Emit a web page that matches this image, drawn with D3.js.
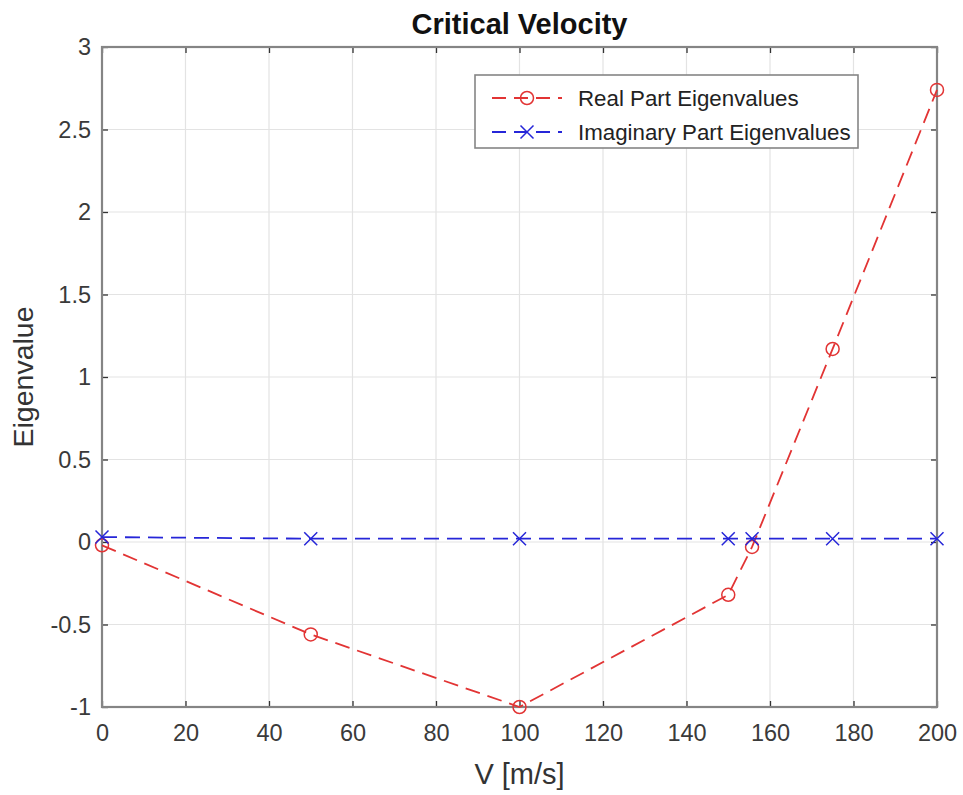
<!DOCTYPE html>
<html><head><meta charset="utf-8">
<script src="https://cdn.jsdelivr.net/npm/d3@7/dist/d3.min.js"></script>
<style>body{margin:0;background:#fff}svg{display:block}text{font-family:Arial,"Liberation Sans",Helvetica,sans-serif}</style>
</head><body><svg id="c" width="963" height="795"></svg>
<script>
const velocities = [0, 50, 100, 150, 155.7, 175, 200];
const realPart = [-0.02, -0.56, -1.0, -0.32, -0.03, 1.17, 2.74];
const imagPart = [0.03, 0.02, 0.02, 0.02, 0.02, 0.02, 0.02];
const xTicks = [0, 20, 40, 60, 80, 100, 120, 140, 160, 180, 200];
const yTicks = [-1, -0.5, 0, 0.5, 1, 1.5, 2, 2.5, 3];
const seriesNames = ["Real Part Eigenvalues", "Imaginary Part Eigenvalues"];

const W = 963, H = 795;
const m = {l: 102, t: 47, r: 26, b: 88};
const pw = W - m.l - m.r, ph = H - m.t - m.b;
const svg = d3.select("#c");
const x = d3.scaleLinear().domain([0, 200]).range([m.l, m.l + pw]);
const y = d3.scaleLinear().domain([-1, 3]).range([m.t + ph, m.t]);

const axCol = "#858585", gridCol = "#e3e3e3";
const red = "#e23434", blue = "#2626d8";

// grid
svg.append("g").selectAll("line").data(xTicks.slice(1, -1)).join("line")
  .attr("x1", d => x(d)).attr("x2", d => x(d)).attr("y1", m.t).attr("y2", m.t + ph)
  .attr("stroke", gridCol).attr("stroke-width", 1.2);
svg.append("g").selectAll("line").data(yTicks.slice(1, -1)).join("line")
  .attr("y1", d => y(d)).attr("y2", d => y(d)).attr("x1", m.l).attr("x2", m.l + pw)
  .attr("stroke", gridCol).attr("stroke-width", 1.2);

// axes (inward ticks)
const fmt = d => String(d);
const styleAxis = g => {
  g.select(".domain").remove();
  g.selectAll(".tick line").attr("stroke", "#333").attr("stroke-width", 1.3);
  g.selectAll(".tick text").attr("fill", "#3a3a3a").style("font-size", "23.5px");
};
svg.append("g").attr("transform", `translate(0,${m.t + ph})`)
  .call(d3.axisBottom(x).tickValues(xTicks).tickFormat(fmt).tickSizeInner(-6).tickPadding(17))
  .call(styleAxis);
svg.append("g").attr("transform", `translate(0,${m.t})`)
  .call(d3.axisTop(x).tickValues(xTicks).tickFormat("").tickSizeInner(-6))
  .call(styleAxis);
svg.append("g").attr("transform", `translate(${m.l},0)`)
  .call(d3.axisLeft(y).tickValues(yTicks).tickFormat(fmt).tickSizeInner(-6).tickPadding(11))
  .call(styleAxis);
svg.append("g").attr("transform", `translate(${m.l + pw},0)`)
  .call(d3.axisRight(y).tickValues(yTicks).tickFormat("").tickSizeInner(-6))
  .call(styleAxis);

// box
svg.append("rect").attr("x", m.l).attr("y", m.t).attr("width", pw).attr("height", ph)
  .attr("fill", "none").attr("stroke", axCol).attr("stroke-width", 2.2);

const realData = velocities.map((v, i) => [v, realPart[i]]);
const imagData = velocities.map((v, i) => [v, imagPart[i]]);
const line = d3.line().x(d => x(d[0])).y(d => y(d[1]));
const dash = "15,8";

function circleMarker(g, cx, cy, col) {
  g.append("circle").attr("cx", cx).attr("cy", cy).attr("r", 6.5)
    .attr("fill", "none").attr("stroke", col).attr("stroke-width", 1.5);
}
function crossMarker(g, cx, cy, col) {
  const s = 6.5;
  g.append("path").attr("d", `M${cx - s},${cy - s}L${cx + s},${cy + s}M${cx - s},${cy + s}L${cx + s},${cy - s}`)
    .attr("stroke", col).attr("stroke-width", 1.5).attr("fill", "none");
}

const gR = svg.append("g");
gR.append("path").datum(realData).attr("d", line).attr("fill", "none")
  .attr("stroke", red).attr("stroke-width", 1.8).attr("stroke-dasharray", dash);
realData.forEach(d => circleMarker(gR, x(d[0]), y(d[1]), red));

const gI = svg.append("g");
gI.append("path").datum(imagData).attr("d", line).attr("fill", "none")
  .attr("stroke", blue).attr("stroke-width", 1.8).attr("stroke-dasharray", dash);
imagData.forEach(d => crossMarker(gI, x(d[0]), y(d[1]), blue));

// title and labels
svg.append("text").attr("x", m.l + pw / 2).attr("y", 34).attr("text-anchor", "middle")
  .style("font-size", "29px").style("font-weight", "bold").attr("fill", "#111").text("Critical Velocity");
svg.append("text").attr("x", m.l + pw / 2).attr("y", 784).attr("text-anchor", "middle")
  .style("font-size", "29px").attr("fill", "#333").text("V [m/s]");
svg.append("text").attr("transform", `translate(33,${m.t + ph / 2}) rotate(-90)`).attr("text-anchor", "middle")
  .style("font-size", "28.5px").attr("fill", "#333").text("Eigenvalue");

// legend
const lg = svg.append("g");
lg.append("rect").attr("x", 475).attr("y", 75).attr("width", 383).attr("height", 73)
  .attr("fill", "#fff").attr("stroke", axCol).attr("stroke-width", 1.6);
const legendRows = [{name: seriesNames[0], col: red, mk: circleMarker, cy: 98},
                    {name: seriesNames[1], col: blue, mk: crossMarker, cy: 132}];
legendRows.forEach(r => {
  lg.append("line").attr("x1", 492).attr("x2", 562).attr("y1", r.cy).attr("y2", r.cy)
    .attr("stroke", r.col).attr("stroke-width", 1.8).attr("stroke-dasharray", "14,8");
  r.mk(lg, 527, r.cy, r.col);
  lg.append("text").attr("x", 578).attr("y", r.cy + 8).style("font-size", "22.3px")
    .attr("fill", "#222").text(r.name);
});
</script></body></html>
